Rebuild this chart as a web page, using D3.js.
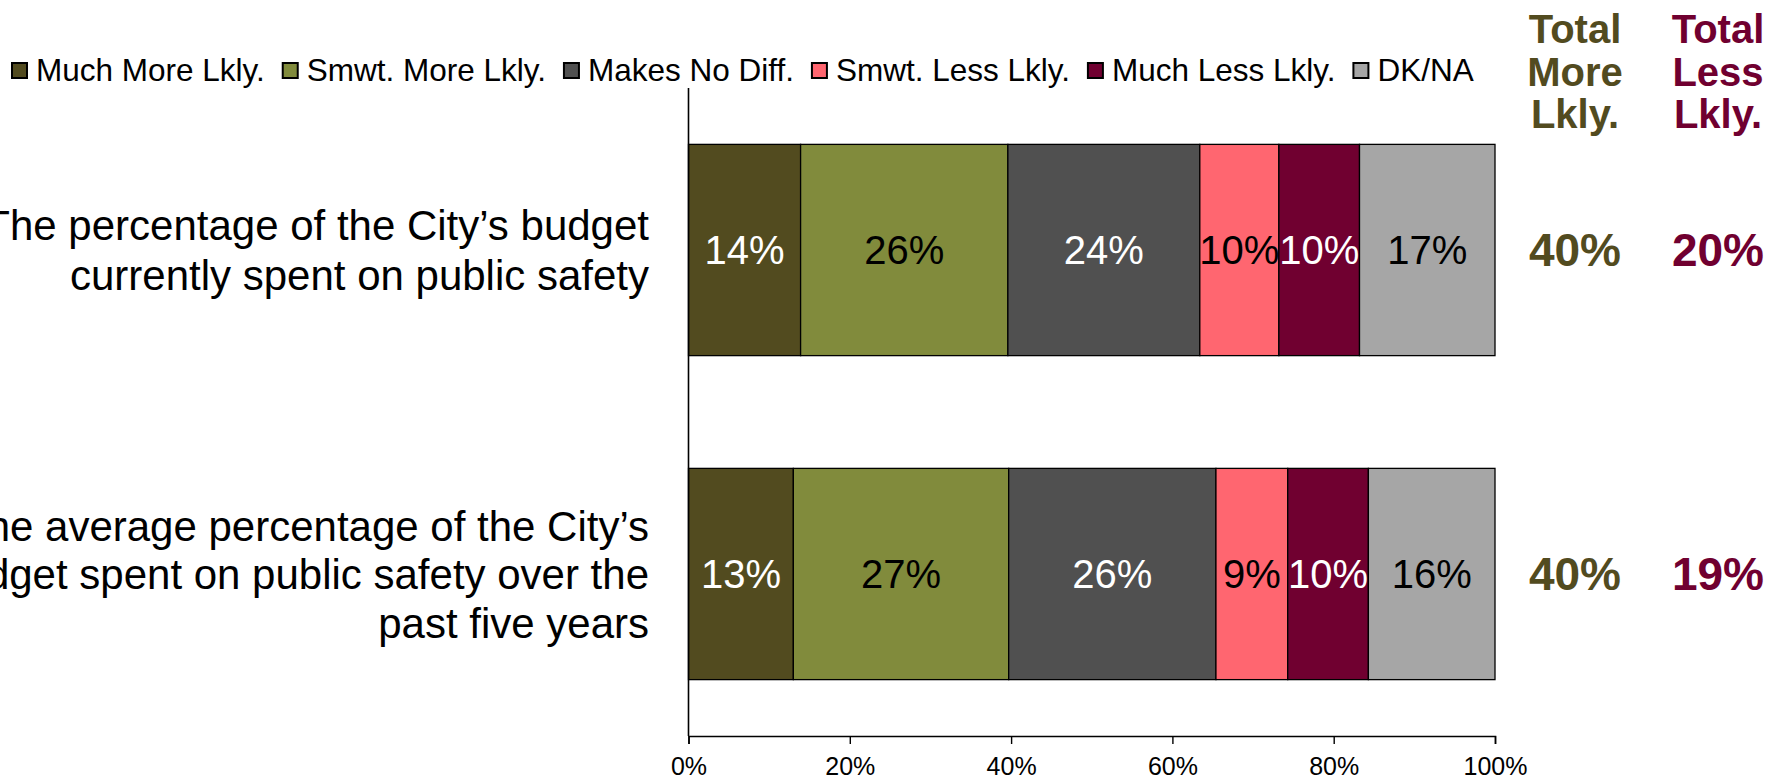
<!DOCTYPE html>
<html>
<head>
<meta charset="utf-8">
<script src="https://cdn.jsdelivr.net/npm/d3@7"></script>
<style>
  body { margin: 0; background: #fff; }
  svg { display: block; font-family: 'Liberation Sans', Arial, sans-serif; }
</style>
</head>
<body>
<div id="chart"></div>
<script>
// Data
const categories = ['budget_now', 'budget_5yr'];
const categoryLines = [
  ['The percentage of the City\u2019s budget', 'currently spent on public safety'],
  ['The average percentage of the City\u2019s', 'budget spent on public safety over the', 'past five years'],
];
const seriesNames = ['Much More Lkly.', 'Smwt. More Lkly.', 'Makes No Diff.', 'Smwt. Less Lkly.', 'Much Less Lkly.', 'DK/NA'];
const muchMore = [13.9, 13.0];
const smwtMore = [25.7, 26.7];
const noDiff = [23.8, 25.7];
const smwtLess = [9.8, 8.9];
const muchLess = [10.0, 10.0];
const dkna = [16.8, 15.7];
const xTicks = [0, 20, 40, 60, 80, 100];
const totalHeaders = [['Total', 'More', 'Lkly.'], ['Total', 'Less', 'Lkly.']];

const colors = ['#524b1f', '#818b3c', '#505050', '#ff6670', '#700030', '#a6a6a6'];
const labelColors = ['#fff', '#000', '#fff', '#000', '#fff', '#000'];
const moreColor = '#524b1f';
const lessColor = '#700030';

const width = 1771;
const height = 779;

// build rows for d3.stack
const seriesValues = [muchMore, smwtMore, noDiff, smwtLess, muchLess, dkna];
const rows = categories.map((c, i) => {
  const row = { category: c };
  seriesNames.forEach((s, j) => {
    row[s] = seriesValues[j][i];
  });
  return row;
});
const stacked = d3.stack().keys(seriesNames)(rows);

const xScale = d3.scaleLinear().domain([0, 100]).range([688.5, 1495]);
const yScale = d3.scaleBand().domain(categories).range([88, 736])
  .paddingInner(0.348).paddingOuter(0.174);

const svg = d3.select('#chart').append('svg')
  .attr('width', width)
  .attr('height', height);

// bars
const groups = svg.append('g')
  .selectAll('g')
  .data(stacked)
  .join('g')
  .attr('fill', (d, i) => colors[i]);

groups.selectAll('rect')
  .data((d) => d)
  .join('rect')
  .attr('x', (d) => xScale(d[0]))
  .attr('y', (d) => yScale(d.data.category))
  .attr('width', (d) => xScale(d[1]) - xScale(d[0]))
  .attr('height', yScale.bandwidth())
  .attr('stroke', '#000')
  .attr('stroke-width', 1.3);

// value labels inside segments
groups.selectAll('text')
  .data((d, i) => d.map((v) => ({ v, i })))
  .join('text')
  .attr('x', (d) => (xScale(d.v[0]) + xScale(d.v[1])) / 2)
  .attr('y', (d) => yScale(d.v.data.category) + yScale.bandwidth() / 2 + 14)
  .attr('text-anchor', 'middle')
  .attr('fill', (d) => labelColors[d.i])
  .style('font-size', '40px')
  .text((d) => `${Math.round(d.v[1] - d.v[0])}%`);

// x axis
const xAxis = d3.axisBottom(xScale)
  .tickValues(xTicks)
  .tickSize(8)
  .tickPadding(13)
  .tickFormat((d) => `${d}%`);

const axisG = svg.append('g')
  .attr('transform', 'translate(0, 736)')
  .call(xAxis);
axisG.select('.domain').attr('stroke-width', 1.6);
axisG.selectAll('line').attr('stroke-width', 1.4);
axisG.selectAll('text')
  .style('font-size', '25px')
  .style('font-family', "'Liberation Sans', Arial, sans-serif")
  .attr('fill', '#000');

// y axis line (no ticks)
svg.append('line')
  .attr('x1', xScale(0))
  .attr('x2', xScale(0))
  .attr('y1', 88)
  .attr('y2', 736)
  .attr('stroke', '#000')
  .attr('stroke-width', 1.6);

// category labels, right aligned and clipped on the left like the original
categories.forEach((c, i) => {
  const lines = categoryLines[i];
  const cy = yScale(c) + yScale.bandwidth() / 2;
  const lh = lines.length === 2 ? 50 : 48.5;
  const first = cy - ((lines.length - 1) * lh) / 2;
  const t = svg.append('text')
    .attr('text-anchor', 'end')
    .style('font-size', '42px')
    .attr('fill', '#000');
  lines.forEach((line, k) => {
    t.append('tspan')
      .attr('x', 649)
      .attr('y', first + k * lh + 15)
      .text(line);
  });
});

// totals columns
const totalX = [1575, 1718];
const totalColors = [moreColor, lessColor];
totalHeaders.forEach((lines, j) => {
  const t = svg.append('text')
    .attr('text-anchor', 'middle')
    .attr('fill', totalColors[j])
    .style('font-size', '40px')
    .style('font-weight', 'bold');
  lines.forEach((line, k) => {
    t.append('tspan')
      .attr('x', totalX[j])
      .attr('y', 43 + k * 42.5)
      .text(line);
  });
});

const totalMore = categories.map((c, i) => Math.round(muchMore[i] + smwtMore[i]));
const totalLess = categories.map((c, i) => Math.round(smwtLess[i] + muchLess[i]));
[totalMore, totalLess].forEach((vals, j) => {
  svg.append('g')
    .selectAll('text')
    .data(categories)
    .join('text')
    .attr('x', totalX[j])
    .attr('y', (d) => yScale(d) + yScale.bandwidth() / 2 + 16)
    .attr('text-anchor', 'middle')
    .attr('fill', totalColors[j])
    .style('font-size', '46px')
    .style('font-weight', 'bold')
    .text((d, i) => `${vals[i]}%`);
});

// legend, laid out left to right
const legend = svg.append('g').attr('transform', 'translate(11, 0)');
let lx = 0;
seriesNames.forEach((s, i) => {
  legend.append('rect')
    .attr('x', lx + 1)
    .attr('y', 63)
    .attr('width', 15)
    .attr('height', 15)
    .attr('fill', colors[i])
    .attr('stroke', '#000')
    .attr('stroke-width', 2);
  const txt = legend.append('text')
    .attr('x', lx + 25)
    .attr('y', 81)
    .style('font-size', '31.5px')
    .attr('fill', '#000')
    .text(s);
  lx += 25 + txt.node().getComputedTextLength() + 17;
});
</script>
</body>
</html>
